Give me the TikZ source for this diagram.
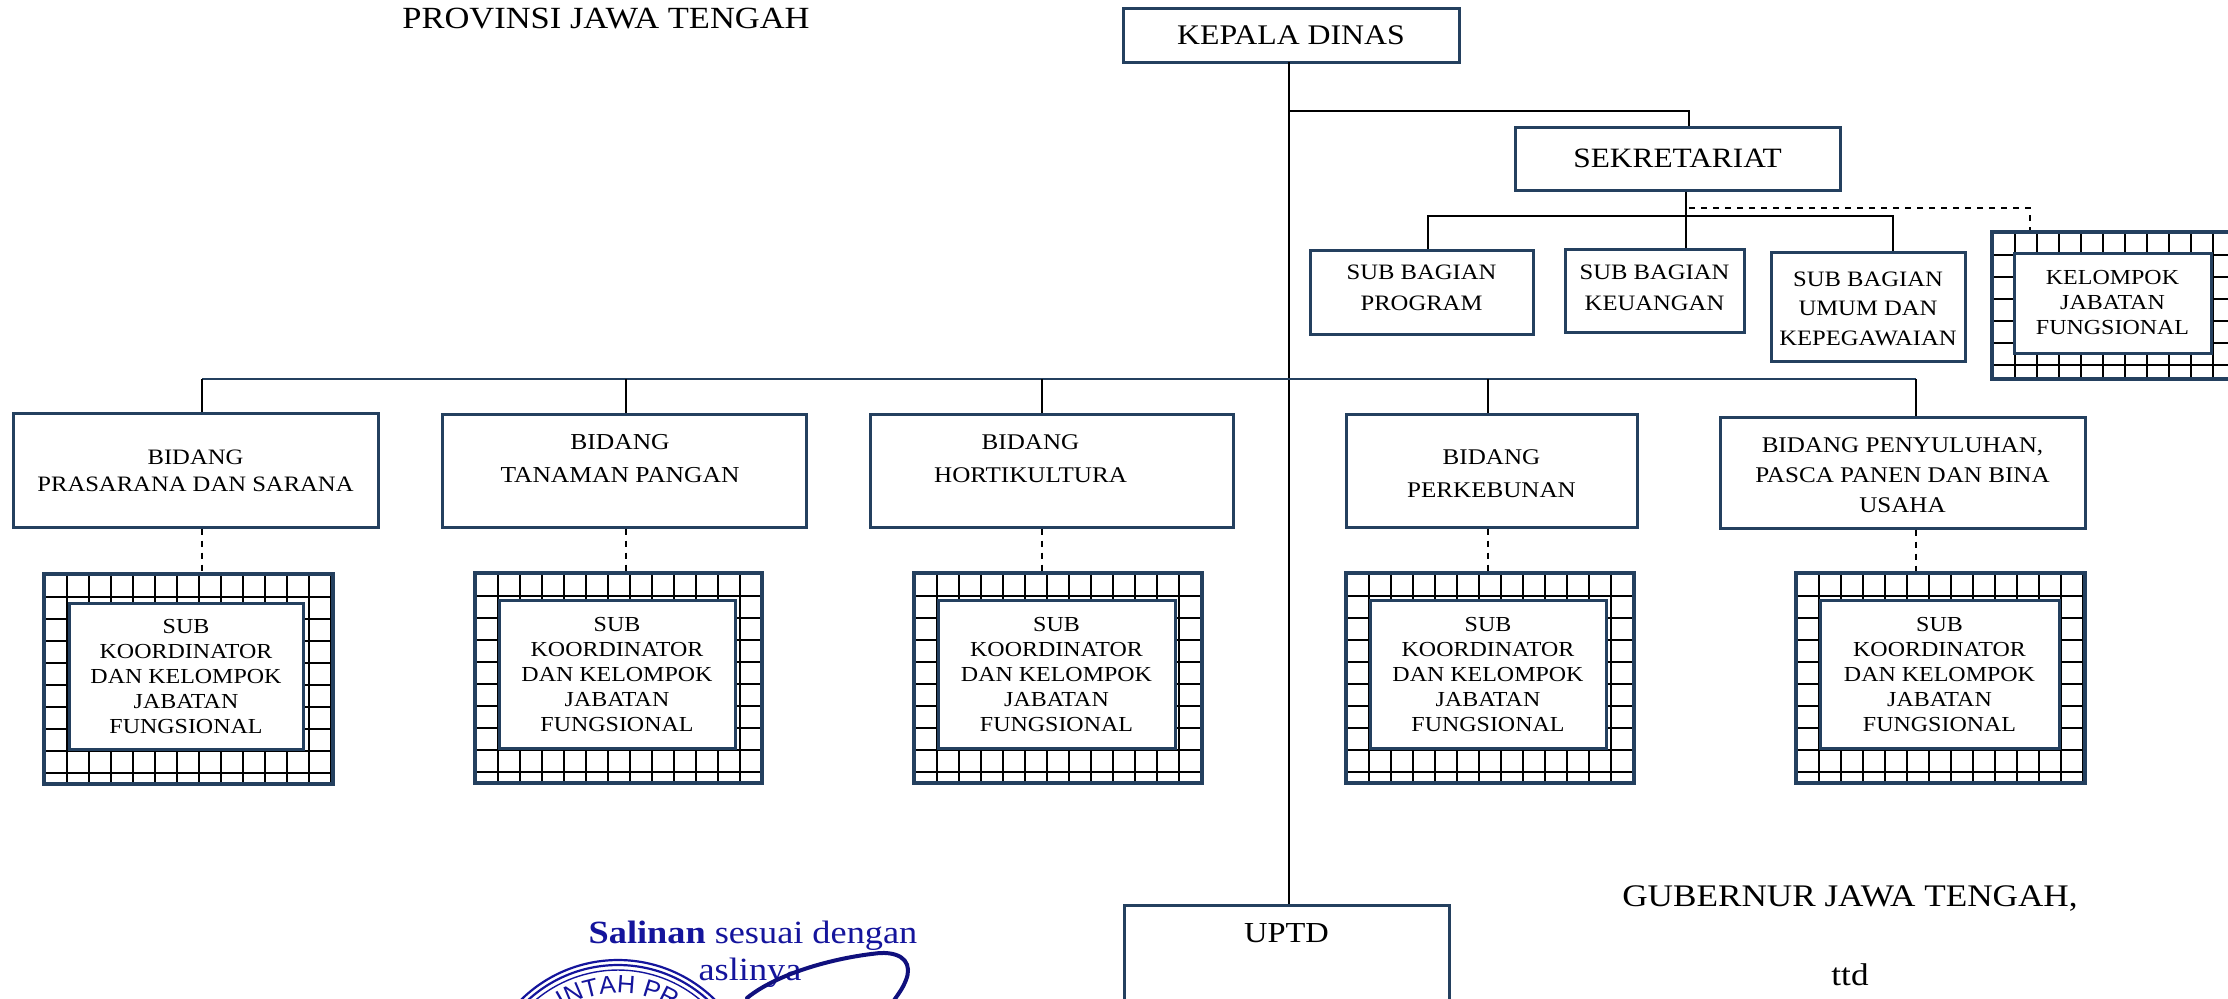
\documentclass[tikz,border=0pt]{standalone}
\usepackage{fontspec}
\setmainfont[FakeStretch=1.12]{Liberation Serif}
\setsansfont{Liberation Sans}
\usetikzlibrary{decorations.text}
\definecolor{navy}{HTML}{24405F}
\definecolor{stampblue}{HTML}{14149C}
\newcommand{\lblat}[5]{\makebox[0pt]{\kern#1\makebox[0pt]{\raisebox{\dimexpr#4-4.5pt\relax}[0pt][0pt]{\fontsize{#2}{#3}\selectfont\begin{tabular}[c]{@{}c@{}}#5\end{tabular}}}}}
\newcommand{\lbl}[4]{\lblat{0pt}{#1}{#2}{#3}{#4}}
\newcommand{\placebox}[7]{%
  \pgfmathsetmacro\bw{(#5-#3)*0.5}\pgfmathsetmacro\bh{(#6-#4)*0.5}%
  \pgfmathsetmacro\cx{(#3+#5)/2}\pgfmathsetmacro\cy{(#4+#6)/2}%
  \node[#1,minimum width=\bw pt,minimum height=\bh pt] (#2) at (\cx,\cy) {#7};}
\newcommand{\gridpanel}[5]{%
  \begin{scope}
    \clip (#2,#3) rectangle (#4,#5);
    \pgfmathsetmacro\gxa{#2+23}\pgfmathsetmacro\gxb{#2+45}
    \pgfmathsetmacro\gya{#3+23}\pgfmathsetmacro\gyb{#3+45}
    \foreach \g in {\gxa,\gxb,...,#4} \draw[gridline] (\g,#3) -- (\g,#5);
    \foreach \g in {\gya,\gyb,...,#5} \draw[gridline] (#2,\g) -- (#4,\g);
  \end{scope}
  \placebox{panel}{#1}{#2}{#3}{#4}{#5}{}}
\newcommand{\subtext}{\lbl{10.7}{12.6}{0.5pt}{SUB\\KOORDINATOR\\DAN KELOMPOK\\JABATAN\\FUNGSIONAL}}
\tikzset{
  x=0.5pt,y=-0.5pt,
  box/.style={draw=navy,line width=1.5pt,fill=white,inner sep=0pt,text=black},
  panel/.style={draw=navy,line width=1.7pt,inner sep=0pt},
  gridline/.style={draw=black,line width=1.35pt},
  conn/.style={draw=black,line width=0.9pt},
  navyconn/.style={draw=navy,line width=1.2pt},
  dashconn/.style={draw=black,line width=0.9pt,dash pattern=on 3pt off 3pt},
  free/.style={inner sep=0pt,text=black},
  stampline/.style={draw=stampblue,line width=1.1pt},
}
\begin{document}
\begin{tikzpicture}
\clip (0,0) rectangle (2228,998);
\fill[white] (0,0) rectangle (2228,998);

\node[free] (title) at (606,19) {\fontsize{15.4}{18}\selectfont PROVINSI JAWA TENGAH};

% top boxes
\placebox{box}{kepala}{1123}{8}{1459}{62}{\lbl{14.2}{18}{0pt}{KEPALA DINAS}}
\placebox{box}{sekre}{1515}{127}{1840}{190}{\lbl{14}{18}{0pt}{SEKRETARIAT}}
\placebox{box}{sb1}{1310}{250}{1533}{334}{\lbl{11}{15.6}{3.2pt}{SUB BAGIAN\\PROGRAM}}
\placebox{box}{sb2}{1565}{249}{1744}{332}{\lbl{11}{15.6}{2.5pt}{SUB BAGIAN\\KEUANGAN}}
\placebox{box}{sb3}{1771}{252}{1965}{361}{\lbl{11}{14.6}{0pt}{SUB BAGIAN\\UMUM DAN\\KEPEGAWAIAN}}

\gridpanel{kfpanel}{1992}{232}{2245}{379}
\placebox{box}{kf}{2014}{253}{2211}{353}{\lbl{10.7}{12.5}{1pt}{KELOMPOK\\JABATAN\\FUNGSIONAL}}

% bidang
\placebox{box}{b1}{13}{413}{378}{527}{\lbl{11}{13.5}{0.7pt}{BIDANG\\PRASARANA DAN SARANA}}
\placebox{box}{b2}{442}{414}{806}{527}{\lblat{-4pt}{11.4}{16.5}{7.5pt}{BIDANG\\TANAMAN PANGAN}}
\placebox{box}{b3}{870}{414}{1233}{527}{\lblat{-21pt}{11.2}{16.5}{7.5pt}{BIDANG\\HORTIKULTURA}}
\placebox{box}{b4}{1346}{414}{1637}{527}{\lbl{11.2}{16.5}{0pt}{BIDANG\\PERKEBUNAN}}
\placebox{box}{b5}{1720}{417}{2085}{528}{\lbl{11.2}{15}{0pt}{BIDANG PENYULUHAN,\\PASCA PANEN DAN BINA\\USAHA}}

% sub koordinator
\gridpanel{p1}{44}{574}{333}{784}
\placebox{box}{s1}{69}{603}{303}{749}{\subtext}
\gridpanel{p2}{475}{573}{762}{783}
\placebox{box}{s2}{499}{600}{735}{748}{\subtext}
\gridpanel{p3}{914}{573}{1202}{783}
\placebox{box}{s3}{938}{600}{1175}{748}{\subtext}
\gridpanel{p4}{1346}{573}{1634}{783}
\placebox{box}{s4}{1370}{600}{1606}{748}{\subtext}
\gridpanel{p5}{1796}{573}{2085}{783}
\placebox{box}{s5}{1820}{600}{2059}{748}{\subtext}

% UPTD
\placebox{box}{uptd}{1124}{905}{1449}{1040}{\lbl{14.5}{18}{19.5pt}{UPTD}}

% junctions
\coordinate (trunkTop) at (1289,62);
\coordinate (jsek) at (1689,111);
\coordinate (jsub) at (1686,216);
\coordinate (jd) at (1689,208);
\coordinate (jkf) at (2030,208);
\coordinate (l1) at (1428,216);
\coordinate (l3) at (1893,216);
\coordinate (j1) at (202,379);
\coordinate (j2) at (626,379);
\coordinate (j3) at (1042,379);
\coordinate (j4) at (1488,379);
\coordinate (j5) at (1916,379);

\draw[conn] (trunkTop) -- (trunkTop |- uptd.north);
\draw[conn] (trunkTop |- jsek) -- (jsek) -- (jsek |- sekre.north);
\draw[conn] (jsub |- sekre.south) -- (jsub |- sb2.north);
\draw[conn] (l1 |- sb1.north) -- (l1) -- (l3) -- (l3 |- sb3.north);
\draw[dashconn] (jd) -- (jkf) -- (jkf |- kfpanel.north);

\draw[navyconn] (j1) -- (j5);
\draw[conn] (j1) -- (j1 |- b1.north);
\draw[conn] (j2) -- (j2 |- b2.north);
\draw[conn] (j3) -- (j3 |- b3.north);
\draw[conn] (j4) -- (j4 |- b4.north);
\draw[conn] (j5) -- (j5 |- b5.north);
\draw[dashconn] (j1 |- b1.south) -- (j1 |- p1.north);
\draw[dashconn] (j2 |- b2.south) -- (j2 |- p2.north);
\draw[dashconn] (j3 |- b3.south) -- (j3 |- p3.north);
\draw[dashconn] (j4 |- b4.south) -- (j4 |- p4.north);
\draw[dashconn] (j5 |- b5.south) -- (j5 |- p5.north);

% right text
\node[free] (gub) at (1850,899) {\fontsize{15.7}{18}\selectfont GUBERNUR JAWA TENGAH,};
\node[free] (ttd) at (1850,975) {\fontsize{15.7}{18}\selectfont ttd};

% stamp
\coordinate (stampc) at (618,1098);
\draw[stampline] (stampc) ++(-136:138) arc (-136:-44:138);
\draw[stampline] (stampc) ++(-134:133) arc (-134:-46:133);
\draw[stampline,line width=0.7pt] (stampc) ++(-132:128) arc (-132:-48:128);
\path[decorate,decoration={text along path,text align=center,
  text={|\sffamily\fontsize{12.5}{14}\selectfont\color{stampblue}|INTAH PR}}]
  (stampc) ++(-140:105) arc (-140:-40:105);
\node[free,text=stampblue] (sal) at (753,936) {\fontsize{16.2}{18}\selectfont \textbf{Salinan} sesuai dengan};
\node[free,text=stampblue] (asl) at (750,973) {\fontsize{16.2}{18}\selectfont aslinya};
\draw[draw=stampblue!80!black,line width=2pt,line cap=round]
  (747,998) .. controls (775,975) and (830,958) .. (880,953)
  .. controls (905,952) and (912,965) .. (906,980) .. controls (902,990) and (898,994) .. (893,1002);
\end{tikzpicture}
\end{document}
